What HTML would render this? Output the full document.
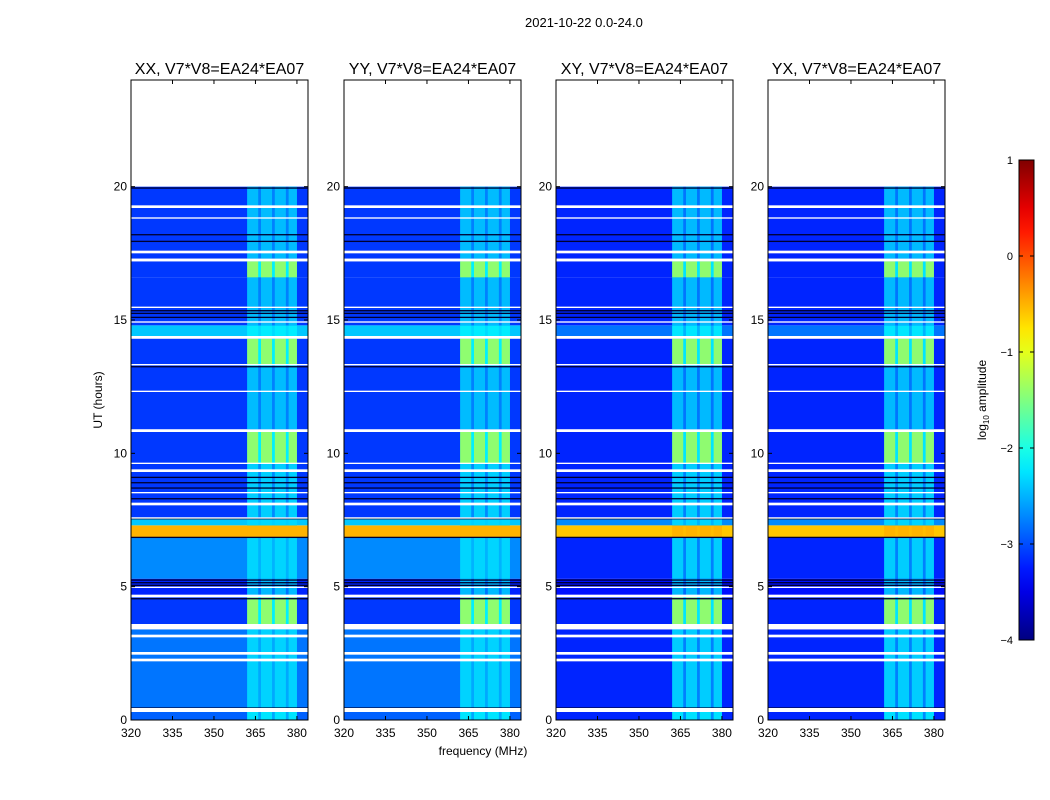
<!DOCTYPE html>
<html><head><meta charset="utf-8">
<style>
body{margin:0;background:#fff;font-family:"Liberation Sans",sans-serif;}
#root{position:relative;width:1050px;height:800px;overflow:hidden;background:#fff}
.t{position:absolute;white-space:nowrap;color:#000}
</style></head><body>
<div id="root">
<div class="t" style="left:525px;top:15px;font-size:13px">2021-10-22 0.0-24.0</div>
<svg id="svg" width="1050" height="800" style="position:absolute;left:0;top:0"></svg>
</div>
<script>
// ---- data ----
const panelTitles = ["XX, V7*V8=EA24*EA07","YY, V7*V8=EA24*EA07","XY, V7*V8=EA24*EA07","YX, V7*V8=EA24*EA07"];
const panelLefts = [131,344,556,768];
const xTicks = [320,335,350,365,380];
const yTicks = [0,5,10,15,20];
const cbTicks = [-4,-3,-2,-1,0,1];
// time segments (hours) with log10 amplitude: background (parallel / cross) and band level
const segStart = [0.0,0.45,3.6,4.6,5.3,6.85,7.3,7.6,9.6,10.9,13.3,14.4,14.8,15.5,16.6,17.3,18.0];
const segEnd   = [0.3,3.4,4.6,5.3,6.85,7.3,7.6,9.6,10.8,13.3,14.3,14.8,15.5,16.6,17.2,18.0,20.0];
const bgPar    = [-2.9,-2.8,-3.1,-3.2,-2.7,-0.5,-2.4,-3.1,-3.1,-3.1,-3.1,-2.4,-3.1,-3.1,-3.1,-3.1,-3.1];
const bgCross  = [-3.2,-3.2,-3.2,-3.3,-3.2,-0.6,-2.7,-3.2,-3.2,-3.2,-3.2,-2.8,-3.2,-3.2,-3.2,-3.2,-3.2];
const bandLvl  = [-2.2,-2.3,-1.3,-2.4,-2.3,-0.5,-2.3,-2.3,-1.3,-2.4,-1.3,-2.2,-2.4,-2.4,-1.3,-2.4,-2.4];
const flagged  = [[0.3,0.45],[2.2,2.3],[2.45,2.55],[3.1,3.2],[3.4,3.6],[4.6,4.7],[4.95,5.0],[7.55,7.6],[8.05,8.15],[8.5,8.55],[9.3,9.4],[9.6,9.65],[10.8,10.9],[12.3,12.35],[13.3,13.35],[14.3,14.4],[14.9,14.95],[15.45,15.5],[17.2,17.3],[17.5,17.6],[18.8,18.85],[19.2,19.3]];
const darkLines = [0.45,3.55,4.55,5.05,5.15,5.25,6.85,7.55,8.3,8.7,8.9,9.1,13.25,15.1,15.25,15.35,17.95,18.2,19.95];
const bandChanStart = [362,367,372,377];
const bandChanEnd   = [366,371,376,380];

// ---- helpers ----
const NS="http://www.w3.org/2000/svg";
const svg=document.getElementById('svg');
const top0=80, bot0=720, pw=177;
function yOf(h){return bot0-(h/24)*(bot0-top0);}
function xOf(f,l){return l+(f-320)*(pw/64);}
function jet(v){let t=(v+4)/5;t=Math.max(0,Math.min(1,t));
 const r=Math.max(0,Math.min(1,1.5-Math.abs(4*t-3))),g=Math.max(0,Math.min(1,1.5-Math.abs(4*t-2))),b=Math.max(0,Math.min(1,1.5-Math.abs(4*t-1)));
 return `rgb(${Math.round(r*255)},${Math.round(g*255)},${Math.round(b*255)})`;}
function el(tag,attrs){const e=document.createElementNS(NS,tag);for(const k in attrs)e.setAttribute(k,attrs[k]);return e;}
function txt(x,y,s,size,anchor){const e=el('text',{x:x,y:y,'font-size':size,'text-anchor':anchor||'middle','font-family':'Liberation Sans, sans-serif'});e.textContent=s;svg.appendChild(e);return e;}

panelLefts.forEach((L,p)=>{
 const cross=p>=2;
 const g=el('g',{});
 
 
 svg.appendChild(g);
 for(let s=0;s<segStart.length;s++){
  const y1=yOf(segEnd[s]),y2=yOf(segStart[s]);
  const bg=cross?bgCross[s]:bgPar[s];
  const r=el('rect',{x:L,y:y1,width:pw,height:y2-y1,fill:jet(bg)});
  
  
  g.appendChild(r);
  const rb=el('rect',{x:xOf(362,L),y:y1,width:xOf(380,L)-xOf(362,L),height:y2-y1,fill:jet((bg+bandLvl[s])/2)});
  
  
  g.appendChild(rb);
  for(let k=0;k<bandChanStart.length;k++){
   const c=el('rect',{x:xOf(bandChanStart[k],L),y:y1,width:xOf(bandChanEnd[k],L)-xOf(bandChanStart[k],L),height:y2-y1,fill:jet(bandLvl[s]),opacity:0.85});
   
   
   g.appendChild(c);
  }
 }
 darkLines.forEach(h=>{
  const r=el('rect',{x:L,y:yOf(h)-0.6,width:pw,height:1.3,fill:'#000030'});
  
  
  g.appendChild(r);
 });
 flagged.forEach(f=>{
  const r=el('rect',{x:L,y:yOf(f[1]),width:pw,height:yOf(f[0])-yOf(f[1]),fill:'#fff'});
  
  
  g.appendChild(r);
 });
 const fr=el('rect',{x:L,y:top0,width:pw,height:bot0-top0,fill:'none',stroke:'#000','stroke-width':1});
 
 
 svg.appendChild(fr);
 const t=txt(L+pw/2,74,panelTitles[p],16);
 
 
 xTicks.forEach(v=>{
  const x=xOf(v,L);
  svg.appendChild(el('line',{x1:x,x2:x,y1:bot0,y2:bot0-4,stroke:'#000'}));
  svg.appendChild(el('line',{x1:x,x2:x,y1:top0,y2:top0+4,stroke:'#000'}));
  const tl=txt(x,737,String(v),12);
  
  
 });
 yTicks.forEach(v=>{
  const y=yOf(v);
  svg.appendChild(el('line',{x1:L,x2:L+4,y1:y,y2:y,stroke:'#000'}));
  svg.appendChild(el('line',{x1:L+pw,x2:L+pw-4,y1:y,y2:y,stroke:'#000'}));
  const tl=txt(L-4,y+4,String(v),12,'end');
  
  
 });
});
const xl=txt(483,755,'frequency (MHz)',12);


const yl=txt(0,0,'UT (hours)',12);
yl.setAttribute('transform','translate(102,400) rotate(-90)');



const cbx=1019,cbw=15,cbTop=160,cbBot=640;
const defs=el('defs',{});
const grad=el('linearGradient',{id:'jetg',x1:0,y1:1,x2:0,y2:0});
for(let i=0;i<=20;i++){grad.appendChild(el('stop',{offset:(i/20),'stop-color':jet(-4+5*i/20)}));}
defs.appendChild(grad);svg.appendChild(defs);
const cb=el('rect',{x:cbx,y:cbTop,width:cbw,height:cbBot-cbTop,fill:'url(#jetg)',stroke:'#000'});


svg.appendChild(cb);
cbTicks.forEach(v=>{
 const y=cbBot-(v+4)/5*(cbBot-cbTop);
 svg.appendChild(el('line',{x1:cbx,x2:cbx+4,y1:y,y2:y,stroke:'#000'}));
 svg.appendChild(el('line',{x1:cbx+cbw,x2:cbx+cbw-4,y1:y,y2:y,stroke:'#000'}));
 const tl=txt(1013,y+4,v<0?'\u2212'+(-v):String(v),11,'end');
 
 
});
const cl=el('text',{'font-size':12,'text-anchor':'middle','font-family':'Liberation Sans, sans-serif',transform:'translate(986,400) rotate(-90)'});
cl.innerHTML='log<tspan font-size="8" dy="3">10</tspan><tspan dy="-3"> amplitude</tspan>';


svg.appendChild(cl);
</script>
</body></html>
